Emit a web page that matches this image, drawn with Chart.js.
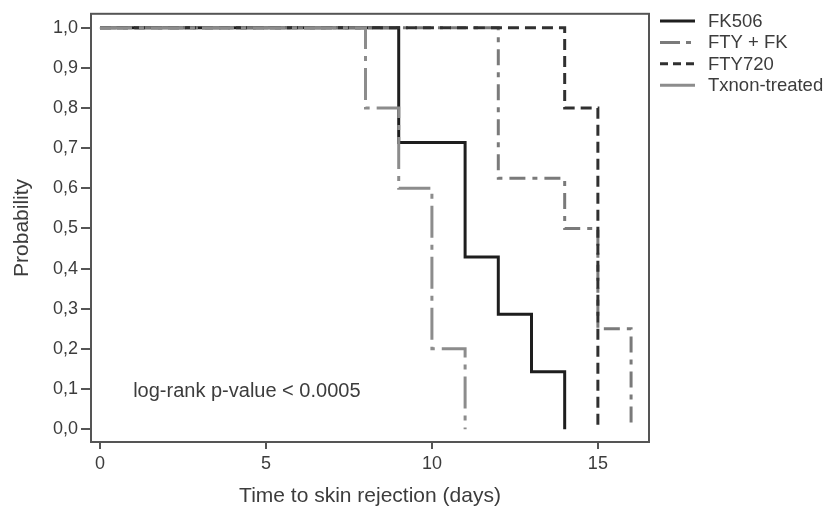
<!DOCTYPE html>
<html>
<head>
<meta charset="utf-8">
<script src="https://cdn.jsdelivr.net/npm/chart.js@4.4.0/dist/chart.umd.min.js"></script>
<style>
  html, body { margin: 0; padding: 0; background: #fff; }
  #wrap { width: 835px; height: 516px; }
</style>
</head>
<body>
<div id="wrap"><canvas id="km"></canvas></div>
<script>
// Kaplan-Meier survival steps (day, probability)
const fk506Days = [0, 9, 11, 12, 13, 14];
const fk506Prob = [1.0, 0.714, 0.429, 0.286, 0.143, 0.0];

const ftyFkDays = [0, 12, 14, 15, 16];
const ftyFkProb = [1.0, 0.625, 0.5, 0.25, 0.0];

const fty720Days = [0, 14, 15];
const fty720Prob = [1.0, 0.8, 0.0];

const untreatedDays = [0, 8, 9, 10, 11];
const untreatedProb = [1.0, 0.8, 0.6, 0.2, 0.0];

const seriesNames = ['FK506', 'FTY + FK', 'FTY720', 'Txnon-treated'];
const xTicks = [0, 5, 10, 15];
const yTicks = [0, 0.1, 0.2, 0.3, 0.4, 0.5, 0.6, 0.7, 0.8, 0.9, 1.0];
const noteText = 'log-rank p-value < 0.0005';

const FONT = "'Liberation Sans', Arial, sans-serif";
const TEXT = '#3c3c3c';
const AXIS = '#555555';

function toPoints(days, prob) {
    return days.map((d, i) => ({ x: d, y: prob[i] }));
}

const styles = [
    { color: '#1e1e1e', width: 3, dash: [], legendDash: [] },
    { color: '#7a7a7a', width: 3, dash: [16, 7, 5, 7], legendDash: [20, 6, 5, 6] },
    { color: '#303030', width: 3, dash: [11, 6], legendDash: [8, 5] },
    { color: '#8c8c8c', width: 3, dash: [32, 7, 5, 7], legendDash: [] },
];

const seriesPoints = [
    toPoints(fk506Days, fk506Prob),
    toPoints(ftyFkDays, ftyFkProb),
    toPoints(fty720Days, fty720Prob),
    toPoints(untreatedDays, untreatedProb),
];

// FK506 last so it sits on top
const datasets = [3, 2, 1, 0].map(idx => {
    const s = styles[idx];
    return {
        label: seriesNames[idx],
        data: seriesPoints[idx],
        showLine: true,
        stepped: 'before',
        borderColor: s.color,
        borderWidth: s.width,
        borderDash: s.dash,
        pointRadius: 0,
        fill: false,
    };
});

// box, legend, and note text
const decorPlugin = {
    id: 'decor',
    afterDraw(chart) {
        const { ctx, chartArea: a, scales } = chart;
        ctx.save();
        ctx.strokeStyle = AXIS;
        ctx.lineWidth = 2;
        ctx.strokeRect(a.left, a.top, a.right - a.left, a.bottom - a.top);

        // note
        ctx.fillStyle = TEXT;
        ctx.font = '20px ' + FONT;
        ctx.textAlign = 'left';
        ctx.textBaseline = 'middle';
        ctx.fillText(noteText, scales.x.getPixelForValue(1), scales.y.getPixelForValue(0.1) + 2);

        // legend
        const lx = a.right + 11;
        seriesNames.forEach((name, i) => {
            const s = styles[i];
            const y = 21 + i * 21.4;
            ctx.beginPath();
            ctx.strokeStyle = s.color;
            ctx.lineWidth = s.width;
            ctx.setLineDash(s.legendDash);
            ctx.moveTo(lx, y);
            ctx.lineTo(lx + 35, y);
            ctx.stroke();
            ctx.setLineDash([]);
            ctx.fillStyle = TEXT;
            ctx.font = '18.5px ' + FONT;
            ctx.fillText(name, lx + 48, y + 1);
        });
        ctx.restore();
    }
};

const chart = new Chart(document.getElementById('km'), {
    type: 'scatter',
    data: { datasets },
    options: {
        responsive: true,
        maintainAspectRatio: false,
        animation: false,
        layout: { padding: { top: 9, right: 186, bottom: 0, left: 6 } },
        plugins: { legend: { display: false }, tooltip: { enabled: false } },
        scales: {
            x: {
                type: 'linear',
                min: -0.27,
                max: 16.54,
                afterBuildTicks: (s) => { s.ticks = xTicks.map(v => ({ value: v })); },
                afterFit: (s) => { s.height = 74; },
                grid: { drawOnChartArea: false, drawTicks: true, tickLength: 7, color: AXIS, lineWidth: 2 },
                border: { display: true, color: AXIS, width: 2 },
                ticks: { color: TEXT, font: { size: 18, family: FONT }, padding: 4, maxRotation: 0 },
                title: { display: true, text: 'Time to skin rejection (days)', color: TEXT, font: { size: 21, family: FONT }, padding: { top: 0, bottom: 7 } },
            },
            y: {
                type: 'linear',
                min: -0.032,
                max: 1.0345,
                afterBuildTicks: (s) => { s.ticks = yTicks.map(v => ({ value: v })); },
                afterFit: (s) => { s.width = 85; },
                grid: { drawOnChartArea: false, drawTicks: true, tickLength: 10, color: AXIS, lineWidth: 2 },
                border: { display: true, color: AXIS, width: 2 },
                ticks: {
                    color: TEXT, font: { size: 18, family: FONT }, padding: 3,
                    callback: (v) => v.toFixed(1).replace('.', ','),
                },
                title: { display: true, text: 'Probability', color: TEXT, font: { size: 21, family: FONT }, padding: { top: 4, bottom: 0 } },
            },
        },
    },
    plugins: [decorPlugin],
});
</script>
</body>
</html>
